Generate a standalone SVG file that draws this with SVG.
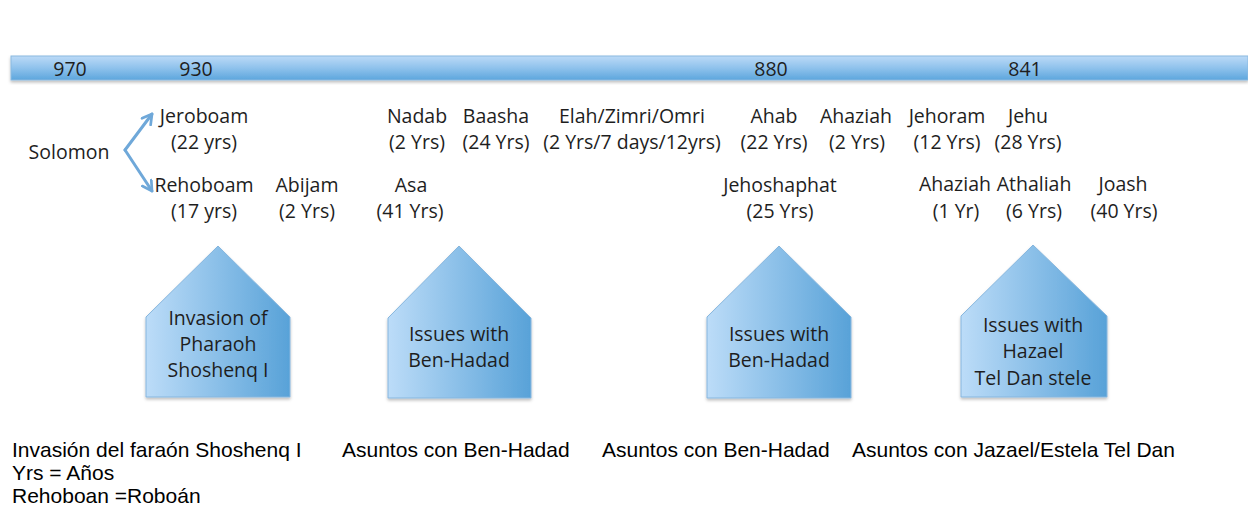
<svg xmlns="http://www.w3.org/2000/svg" width="1248" height="531" viewBox="0 0 1248 531">
<defs>
<linearGradient id="barGrad" x1="0" y1="0" x2="0" y2="1">
<stop offset="0" stop-color="#bcdaf7"/>
<stop offset="0.5" stop-color="#8fc2ec"/>
<stop offset="1" stop-color="#5ca6dd"/>
</linearGradient>
<linearGradient id="houseGrad" x1="0" y1="0" x2="1" y2="0">
<stop offset="0" stop-color="#bcdcf8"/>
<stop offset="1" stop-color="#58a2d8"/>
</linearGradient>
<filter id="shadow" x="-10%" y="-10%" width="120%" height="130%">
<feDropShadow dx="0" dy="2" stdDeviation="1.5" flood-color="#000" flood-opacity="0.25"/>
</filter>
<marker id="arrow" viewBox="0 0 10 10" refX="8" refY="5" markerWidth="4.5" markerHeight="4.5" orient="auto" markerUnits="strokeWidth">
<path d="M1,1 L8,5 L1,9" fill="none" stroke="#6fa8d9" stroke-width="2" stroke-linecap="round" stroke-linejoin="round"/>
</marker>
<style>
.t{font-family:"Open Sans","Noto Sans",sans-serif;font-size:19.5px;fill:#1e1e1e;text-anchor:middle}
.b{font-family:"Liberation Sans",Arial,sans-serif;font-size:21px;fill:#000}
.house{fill:url(#houseGrad);stroke:#86b6de;stroke-width:1;filter:url(#shadow)}
.conn{fill:none;stroke:#6fa8d9;stroke-width:3;stroke-linecap:round;marker-end:url(#arrow)}
</style>
</defs>

<g id="timeline">
<rect x="11" y="56" width="1237" height="24" fill="url(#barGrad)" stroke="#8ab9e0" stroke-width="1" filter="url(#shadow)"/>
<text class="t" x="70" y="76">970</text>
<text class="t" x="196" y="76">930</text>
<text class="t" x="771" y="76">880</text>
<text class="t" x="1025" y="76">841</text>
</g>

<g id="connectors">
<path class="conn" d="M125,150 L152,114"/>
<path class="conn" d="M125,150 L152,191"/>
</g>

<g id="solomon"><text class="t" x="69" y="159">Solomon</text></g>
<g id="jeroboam"><text class="t" x="204" y="123">Jeroboam</text><text class="t" x="204" y="149">(22 yrs)</text></g>
<g id="rehoboam"><text class="t" x="204" y="192">Rehoboam</text><text class="t" x="204" y="218">(17 yrs)</text></g>
<g id="abijam"><text class="t" x="307" y="192">Abijam</text><text class="t" x="307" y="218">(2 Yrs)</text></g>
<g id="nadab"><text class="t" x="417" y="123">Nadab</text><text class="t" x="417" y="149">(2 Yrs)</text></g>
<g id="baasha"><text class="t" x="496" y="123">Baasha</text><text class="t" x="496" y="149">(24 Yrs)</text></g>
<g id="elah"><text class="t" x="632" y="123">Elah/Zimri/Omri</text><text class="t" x="632" y="149">(2 Yrs/7 days/12yrs)</text></g>
<g id="ahab"><text class="t" x="774" y="123">Ahab</text><text class="t" x="774" y="149">(22 Yrs)</text></g>
<g id="ahaziah-israel"><text class="t" x="856" y="123">Ahaziah</text><text class="t" x="857" y="149">(2 Yrs)</text></g>
<g id="jehoram"><text class="t" x="947" y="123">Jehoram</text><text class="t" x="947" y="149">(12 Yrs)</text></g>
<g id="jehu"><text class="t" x="1028" y="123">Jehu</text><text class="t" x="1028" y="149">(28 Yrs)</text></g>
<g id="asa"><text class="t" x="411" y="192">Asa</text><text class="t" x="410" y="218">(41 Yrs)</text></g>
<g id="jehoshaphat"><text class="t" x="780" y="192">Jehoshaphat</text><text class="t" x="780" y="218">(25 Yrs)</text></g>
<g id="ahaziah-judah"><text class="t" x="955" y="191">Ahaziah</text><text class="t" x="956" y="218">(1 Yr)</text></g>
<g id="athaliah"><text class="t" x="1034" y="191">Athaliah</text><text class="t" x="1034" y="218">(6 Yrs)</text></g>
<g id="joash"><text class="t" x="1123" y="191">Joash</text><text class="t" x="1124" y="218">(40 Yrs)</text></g>

<g id="event-shoshenq">
<path class="house" d="M218,246 L290,317 L290,397 L146,397 L146,317 Z"/>
<text class="t" x="218" y="325">Invasion of</text>
<text class="t" x="218" y="351">Pharaoh</text>
<text class="t" x="218" y="377">Shoshenq I</text>
</g>
<g id="event-benhadad-1">
<path class="house" d="M459,246 L531,318 L531,398 L388,398 L388,318 Z"/>
<text class="t" x="459" y="341">Issues with</text>
<text class="t" x="459" y="367">Ben-Hadad</text>
</g>
<g id="event-benhadad-2">
<path class="house" d="M779,246 L851,317 L851,398 L707,398 L707,317 Z"/>
<text class="t" x="779" y="341">Issues with</text>
<text class="t" x="779" y="367">Ben-Hadad</text>
</g>
<g id="event-hazael">
<path class="house" d="M1033,245 L1107,316 L1107,397 L961,397 L961,316 Z"/>
<text class="t" x="1033" y="332">Issues with</text>
<text class="t" x="1033" y="358">Hazael</text>
<text class="t" x="1033" y="385">Tel Dan stele</text>
</g>

<g id="translations">
<text class="b" x="12" y="457">Invasión del faraón Shoshenq I</text>
<text class="b" x="342" y="457">Asuntos con Ben-Hadad</text>
<text class="b" x="602" y="457">Asuntos con Ben-Hadad</text>
<text class="b" x="852" y="457">Asuntos con Jazael/Estela Tel Dan</text>
<text class="b" x="12" y="480">Yrs = Años</text>
<text class="b" x="12" y="503">Rehoboan =Roboán</text>
</g>
</svg>
